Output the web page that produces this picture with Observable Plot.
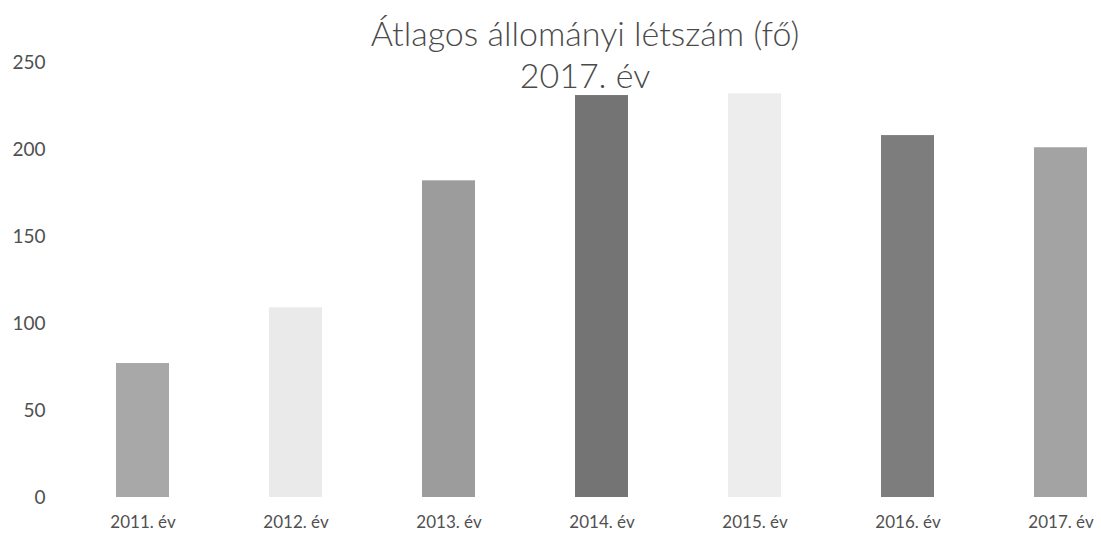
<!DOCTYPE html>
<html>
<head>
<meta charset="utf-8">
<script src="https://cdn.jsdelivr.net/npm/d3@7"></script>
<script src="https://cdn.jsdelivr.net/npm/@observablehq/plot@0.6"></script>
<style>
  html, body { margin: 0; padding: 0; background: #fff; }
  #wrap { position: relative; width: 1101px; height: 551px; overflow: hidden; font-family: Lato, "Open Sans", sans-serif; }
  #title { position: absolute; left: 235px; width: 700px; top: 12px; text-align: center; color: #4a4a4a; font-size: 34px; line-height: 42px; font-weight: 300; }
</style>
</head>
<body>
<div id="wrap">
  <div id="chart"></div>
  <div id="title">Átlagos állományi létszám (fő)<br>2017. év</div>
</div>
<script>
const years = ["2011. év", "2012. év", "2013. év", "2014. év", "2015. év", "2016. év", "2017. év"];
const values = [77, 109, 182, 231, 232, 208, 201];
const barColors = ["#a8a8a8", "#eaeaea", "#9c9c9c", "#747474", "#ededed", "#7d7d7d", "#a3a3a3"];
const yTicks = [0, 50, 100, 150, 200, 250];

const data = years.map((year, i) => ({year, value: values[i]}));

const chart = Plot.plot({
  width: 1101,
  height: 551,
  marginTop: 62,
  marginBottom: 54,
  marginLeft: 50,
  marginRight: 0,
  style: {fontFamily: "Lato, 'Open Sans', sans-serif", color: "#505050", background: "white", overflow: "visible"},
  x: {domain: years, range: [87, 1115], paddingInner: 0.656, paddingOuter: 0.17, label: null},
  y: {domain: [0, 250], label: null},
  color: {domain: years, range: barColors},
  marks: [
    Plot.barY(data, {x: "year", y: "value", fill: "year"}),
    Plot.axisX({tickSize: 0, tickPadding: 18, fontSize: 17, label: null}),
    Plot.axisY({ticks: yTicks, tickSize: 0, tickPadding: 5, fontSize: 19, label: null})
  ]
});
document.getElementById("chart").appendChild(chart);
</script>
</body>
</html>
